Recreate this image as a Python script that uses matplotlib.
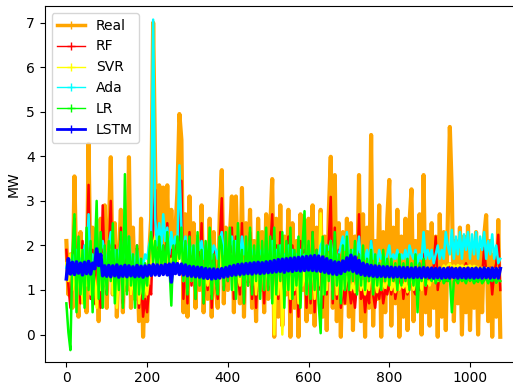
import numpy as np
import matplotlib
matplotlib.use("Agg")
import matplotlib.pyplot as plt
from matplotlib.lines import Line2D

# values, one every 5 samples
step = 5

real = [2.1, 0.9, 1.8, 0.6, 3.55, 1.2, 0.4, 2.3, 0.8, 1.9, 0.5, 4.28, 1.0, 2.4, 0.7, 2.0, 0.3, 2.6, 1.1, 2.9,
        0.6, 2.2, 3.98, 0.9, 2.5, 0.4, 1.7, 2.8, 0.5, 2.1, 1.0, 3.98, 0.6, 2.4, 0.8, 1.9, 0.3, 2.6, -0.05, 1.2,
        0.3, 1.8, 2.6, 7.0, 3.7, 1.6, 3.35, 1.5, 3.3, 1.9, 3.35, 1.4, 2.8, 1.6, 2.3, 3.2, 4.95, 4.37, 0.5, 2.7,
        0.4, 3.1, 1.2, 2.5, 0.6, 2.2, 1.0, 2.9, 0.5, 1.9, 0.8, 2.6, 0.4, 2.3, 1.1, 0.6, 2.7, 3.69, 0.7, 2.4,
        1.0, 2.2, 3.1, 0.5, 3.1, 1.4, 0.7, 3.29, 0.4, 2.5, 1.2, 2.8, 0.6, 2.1, 0.3, 2.6, 1.0, 2.3, 0.5, 2.7,
        0.8, 2.4, 3.49, -0.05, 2.6, 0.4, 2.9, 0.2, 2.2, 0.9, 2.8, -0.05, 2.5, 0.6, 2.1, -0.05, 2.7, 1.0, 2.3, 0.3,
        2.6, 0.5, 2.9, 0.2, 2.4, 1.1, 2.8, 0.4, 2.2, 0.1, 2.7, 3.99, 0.6, 3.58, 0.3, 2.5, -0.05, 2.3, 0.7, 2.6,
        0.4, 2.5, 0.1, 2.2, 1.0, 3.58, 0.3, 2.7, -0.05, 2.4, 0.6, 4.48, 0.2, 2.1, 0.8, 2.9, -0.05, 2.3, 0.5, 2.6,
        3.47, 0.2, 2.4, 0.7, 2.8, -0.05, 2.2, 0.4, 2.6, 0.1, 2.5, 3.26, 0.3, 2.1, 0.8, 2.7, 0.0, 3.58, 0.5, 2.3,
        0.2, 2.5, 0.6, 2.2, -0.05, 2.7, 0.4, 2.3, 0.1, 2.6, 4.66, 3.17, 0.3, 2.1, 0.7, 2.4, 0.0, 2.2, 0.5, 2.44,
        0.1, 2.0, 0.6, 2.3, 0.0, 1.9, 0.5, 2.2, 2.68, 0.3, 2.1, -0.05, 1.8, 0.4, 2.57, -0.05]

rf = [1.9, 1.1, 0.6, 1.5, 2.6, 0.9, 1.8, 0.7, 2.1, 1.0, 1.6, 3.36, 0.8, 1.9, 0.7, 2.3, 1.2, 0.6, 2.9, 1.4,
      0.9, 1.8, 3.0, 1.1, 2.0, 0.8, 1.5, 2.4, 0.7, 1.9, 1.2, 2.2, 0.9, 1.7, 1.0, 2.0, 0.6, 1.3, 0.4, 0.8,
      0.5, 1.1, 0.9, 2.4, 3.25, 1.5, 2.2, 1.4, 2.0, 1.6, 2.5, 1.5, 1.9, 1.4, 2.1, 1.6, 2.3, 3.45, 0.8, 2.0,
      0.7, 2.3, 1.1, 1.8, 0.8, 2.0, 1.2, 2.5, 0.7, 1.6, 1.0, 2.2, 0.6, 1.9, 1.3, 0.8, 2.1, 3.06, 1.0, 1.7,
      1.2, 1.8, 2.4, 0.8, 2.2, 1.3, 0.9, 2.5, 0.7, 1.9, 1.1, 2.3, 0.8, 1.7, 0.6, 2.0, 1.2, 1.8, 0.7, 2.1,
      1.0, 1.9, 2.7, 0.5, 2.0, 0.8, 2.3, 0.4, 1.8, 1.1, 2.2, 0.5, 2.0, 0.9, 1.7, 0.4, 2.1, 1.2, 1.9, 0.6,
      2.0, 0.7, 2.3, 0.5, 1.9, 1.0, 2.2, 0.6, 1.8, 0.9, 2.1, 3.09, 0.7, 2.4, 0.8, 1.9, 0.6, 1.1, 0.7, 1.2,
      1.1, 0.7, 1.0, 0.6, 1.2, 2.7, 0.8, 1.1, 0.5, 1.0, 0.7, 2.1, 0.9, 0.6, 1.1, 0.8, 1.2, 0.7, 1.0, 0.9,
      1.2, 0.9, 1.3, 0.8, 1.1, 1.0, 1.4, 0.8, 1.2, 0.9, 1.1, 1.3, 1.0, 0.9, 1.2, 1.0, 1.1, 1.8, 0.9, 1.3,
      1.4, 1.3, 1.5, 2.2, 1.0, 1.4, 1.3, 1.5, 1.2, 1.4, 1.6, 1.3, 1.5, 1.4, 1.2, 1.5, 1.3, 1.4, 1.6, 1.3,
      1.4, 1.3, 1.5, 1.2, 1.4, 1.5, 1.3, 1.95, 1.4, 1.3, 1.5, 0.9, 1.4, 1.6, 2.24, 1.0]

svr = [1.6, 1.2, 1.8, 1.0, 1.5, 0.8, 1.3, 1.9, 0.7, 1.4, 1.1, 1.7, 0.9, 1.5, 1.2, 0.6, 1.6, 1.0, 1.8, 1.2,
       1.0, 1.6, 1.9, 0.9, 1.5, 0.6, 1.3, 1.8, 0.8, 1.4, 1.1, 1.7, 0.9, 1.3, 0.8, 1.5, 0.7, 1.2, 0.9, 1.1,
       0.9, 1.3, 1.5, 2.0, 2.2, 1.6, 1.9, 1.5, 1.8, 1.6, 1.9, 1.5, 1.7, 1.5, 1.8, 1.6, 2.0, 2.1, 1.2, 1.7,
       1.0, 1.8, 1.2, 1.6, 1.0, 1.5, 1.2, 1.9, 0.9, 1.4, 1.1, 1.6, 0.9, 1.5, 1.2, 1.0, 1.6, 2.0, 1.1, 1.5,
       1.3, 1.6, 1.8, 1.0, 1.7, 1.3, 1.1, 1.9, 1.0, 1.5, 1.2, 1.7, 1.1, 1.6, 0.9, 1.5, 1.2, 1.6, 1.0, 1.7,
       1.1, 1.6, 2.0, 0.0, 1.5, 0.9, 1.8, 0.0, 1.4, 1.0, 1.7, 0.8, 1.5, 1.0, 1.4, 0.7, 1.6, 1.1, 1.5, 0.9,
       1.6, 1.0, 1.8, 0.8, 1.5, 1.1, 2.72, 0.9, 1.4, 1.0, 1.7, 2.0, 1.0, 1.8, 0.9, 1.5, 0.8, 1.2, 1.0, 1.3,
       1.2, 1.0, 1.15, 0.95, 1.2, 1.5, 1.0, 1.2, 0.9, 1.15, 1.0, 1.6, 1.05, 1.2, 0.95, 1.25, 1.0, 1.15, 1.05, 1.2,
       1.5, 1.0, 1.2, 0.95, 1.25, 1.0, 1.15, 1.05, 1.2, 0.95, 1.15, 1.3, 1.0, 1.2, 1.05, 1.25, 1.0, 1.5, 1.1, 1.2,
       1.1, 1.3, 1.2, 1.4, 1.2, 1.5, 1.45, 1.55, 1.5, 1.55, 1.6, 1.5, 1.55, 1.5, 1.56, 1.52, 1.55, 1.5, 1.54, 1.52,
       1.55, 1.5, 1.54, 1.52, 1.5, 1.48, 1.5, 1.47, 1.49, 1.46, 1.48, 1.47, 1.45, 1.48, 1.46, 1.47]

ada = [1.5, 1.7, 1.4, 1.8, 1.6, 1.9, 1.5, 1.7, 1.4, 2.0, 1.6, 2.7, 1.5, 1.8, 1.6, 2.0, 1.7, 1.9, 2.1, 1.8,
       1.6, 2.0, 2.3, 1.7, 1.9, 1.5, 1.8, 2.1, 1.6, 1.9, 1.7, 2.2, 1.6, 1.8, 1.5, 1.9, 1.6, 1.7, 1.5, 1.8,
       1.7, 2.0, 2.2, 7.07, 2.6, 2.0, 2.5, 1.9, 2.7, 2.1, 2.4, 1.8, 2.3, 1.9, 2.2, 2.0, 3.8, 2.4, 1.7, 2.2,
       1.7, 2.1, 1.8, 2.0, 1.7, 2.2, 1.9, 2.1, 1.7, 2.0, 1.8, 2.2, 1.7, 2.0, 1.9, 1.7, 2.1, 2.3, 1.8, 2.0,
       1.8, 2.0, 2.2, 1.7, 2.1, 1.8, 1.7, 2.2, 1.8, 2.0, 1.7, 2.1, 1.8, 1.9, 1.6, 2.0, 1.8, 1.9, 1.7, 2.0,
       1.7, 1.9, 2.1, 1.6, 1.9, 1.7, 2.0, 1.6, 1.8, 1.7, 2.0, 1.6, 1.9, 1.7, 1.8, 1.6, 1.9, 1.7, 1.8, 1.6,
       1.8, 1.7, 1.9, 1.6, 1.8, 1.7, 2.0, 2.1, 1.8, 2.0, 1.9, 2.1, 1.7, 1.9, 1.7, 1.8, 2.0, 2.2, 1.9, 2.3,
       1.8, 1.6, 1.9, 1.7, 1.8, 2.2, 1.6, 1.8, 1.7, 1.9, 1.6, 2.1, 1.7, 1.8, 1.6, 1.9, 1.7, 1.8, 1.6, 1.8,
       2.0, 1.6, 1.8, 1.7, 1.9, 1.6, 1.8, 1.7, 1.9, 1.6, 2.0, 1.8, 1.7, 1.9, 1.6, 1.8, 1.7, 2.3, 1.7, 1.9,
       1.7, 1.9, 1.6, 1.8, 2.0, 1.7, 1.9, 1.7, 2.3, 2.0, 1.8, 2.35, 1.7, 2.2, 1.8, 2.3, 1.7, 2.25, 1.9, 2.3,
       1.7, 2.25, 1.8, 2.3, 1.7, 2.2, 1.9, 2.3, 1.7, 2.1, 1.8, 2.25, 1.7, 2.0, 1.6, 1.7]

lr = [0.7, 0.05, -0.35, 1.8, 2.7, 0.5, 2.2, 0.9, 1.9, 0.6, 2.4, 1.0, 2.1, 0.5, 1.7, 3.0, 0.8, 2.3, 0.6, 2.0,
      0.9, 2.1, 1.2, 2.5, 0.7, 1.9, 1.0, 2.3, 0.6, 3.6, 0.9, 2.2, 1.1, 1.8, 0.6, 2.0, 0.9, 1.7, 0.8, 1.6,
      1.1, 1.8, 2.3, 1.6, 2.1, 1.4, 2.2, 1.5, 2.0, 1.4, 2.3, 1.6, 0.65, 2.0, 1.5, 2.2, 1.7, 2.4, 1.2, 2.1,
      0.9, 2.2, 1.2, 2.0, 0.8, 2.3, 1.1, 1.9, 0.7, 2.1, 1.3, 2.4, 0.8, 1.8, 1.2, 0.9, 2.2, 2.0, 1.0, 2.3,
      1.2, 2.4, 1.0, 2.1, 0.8, 2.5, 1.3, 1.9, 0.7, 2.2, 1.1, 2.4, 0.9, 2.0, 1.2, 2.3, 0.8, 2.1, 1.0, 2.4,
      1.0, 2.2, 0.7, 2.4, 0.9, 2.0, 1.2, 2.3, 0.6, 2.1, 1.0, 2.4, 0.8, 1.9, 1.1, 2.2, 0.6, 2.0, 2.77, 0.9,
      2.1, 0.8, 2.3, 1.0, 1.9, 0.7, 0.03, 2.2, 0.9, 2.0, 1.2, 2.1, 0.8, 2.3, 1.1, 1.8, 0.7, 2.0, 1.0, 2.2,
      1.0, 1.9, 1.2, 2.1, 0.9, 1.8, 1.1, 2.0, 1.0, 1.7, 1.2, 1.9, 0.9, 1.8, 1.1, 1.6, 1.0, 1.9, 1.2, 1.7,
      1.1, 1.7, 1.2, 1.6, 1.0, 1.8, 1.1, 1.6, 1.2, 1.7, 1.0, 1.6, 1.1, 1.8, 0.5, 1.6, 1.2, 1.7, 1.1, 1.5,
      1.3, 1.2, 1.4, 1.15, 1.3, 1.2, 1.35, 1.15, 1.25, 1.2, 1.3, 0.5, 1.2, 1.25, 1.15, 1.3, 1.2, 1.25, 1.15, 1.3,
      1.2, 1.28, 1.15, 1.25, 1.18, 1.3, 1.15, 1.22, 1.28, 1.15, 1.25, 1.2, 1.3, 1.16, 1.24, 1.2]

lstm = [1.25, 1.70, 1.36, 1.62, 1.35, 1.63, 1.38, 1.60, 1.34, 1.62, 1.37, 1.64, 1.36, 1.60, 1.48, 1.92, 1.55, 1.80, 1.32, 1.54,
        1.31, 1.55, 1.30, 1.54, 1.32, 1.56, 1.29, 1.53, 1.31, 1.55, 1.30, 1.54, 1.32, 1.52, 1.30, 1.55, 1.31, 1.53, 1.29, 1.54,
        1.32, 1.55, 1.33, 1.57, 1.34, 1.56, 1.33, 1.55, 1.35, 1.57, 1.34, 1.58, 1.18, 1.60, 1.37, 1.59, 1.35, 1.58, 1.34, 1.56,
        1.32, 1.53, 1.31, 1.52, 1.30, 1.51, 1.29, 1.50, 1.27, 1.48, 1.26, 1.47, 1.25, 1.47, 1.26, 1.46, 1.27, 1.48, 1.29, 1.50,
        1.31, 1.53, 1.33, 1.55, 1.34, 1.57, 1.35, 1.58, 1.36, 1.59, 1.37, 1.60, 1.36, 1.61, 1.38, 1.62, 1.37, 1.61, 1.38, 1.63,
        1.39, 1.64, 1.40, 1.66, 1.41, 1.68, 1.42, 1.69, 1.40, 1.70, 1.43, 1.71, 1.42, 1.72, 1.44, 1.73, 1.43, 1.74, 1.44, 1.75,
        1.45, 1.76, 1.44, 1.77, 1.43, 1.76, 1.42, 1.74, 1.40, 1.70, 1.38, 1.66, 1.36, 1.63, 1.35, 1.62, 1.37, 1.65, 1.42, 1.72,
        1.45, 1.78, 1.42, 1.74, 1.38, 1.66, 1.35, 1.60, 1.33, 1.57, 1.32, 1.55, 1.31, 1.54, 1.30, 1.53, 1.31, 1.52, 1.30, 1.52,
        1.30, 1.51, 1.29, 1.50, 1.30, 1.51, 1.29, 1.50, 1.28, 1.50, 1.29, 1.49, 1.28, 1.50, 1.29, 1.49, 1.28, 1.50, 1.29, 1.49,
        1.28, 1.49, 1.27, 1.48, 1.28, 1.49, 1.27, 1.48, 1.28, 1.49, 1.27, 1.49, 1.28, 1.48, 1.27, 1.49, 1.28, 1.48, 1.27, 1.49,
        1.28, 1.48, 1.27, 1.49, 1.28, 1.48, 1.27, 1.49, 1.28, 1.48, 1.27, 1.49, 1.28, 1.48, 1.27, 1.48]

# name, values, colour, plot width, legend width
series = [
    ("Real", real, "orange", 3.0, 2.5),
    ("RF", rf, "red", 1.8, 1.0),
    ("SVR", svr, "yellow", 1.8, 1.0),
    ("Ada", ada, "cyan", 1.8, 1.0),
    ("LR", lr, "lime", 1.8, 1.0),
    ("LSTM", lstm, "blue", 2.6, 2.0),
]

fig = plt.figure(figsize=(5.13, 3.85), dpi=100)
ax = fig.add_axes([0.0871, 0.0605, 0.9304, 0.9239])

handles = []
for name, vals, col, lw, leg_lw in series:
    x = np.arange(len(vals)) * step
    ax.plot(x, vals, color=col, lw=lw)
    handles.append(Line2D([], [], color=col, lw=leg_lw, marker="+", ms=6, label=name))

ax.set_xlim(-53.75, 1128.75)
ax.set_ylim(-0.61, 7.375)
ax.set_ylabel("MW")
ax.legend(handles=handles, loc="upper left")

fig.savefig("out.png", dpi=100)
